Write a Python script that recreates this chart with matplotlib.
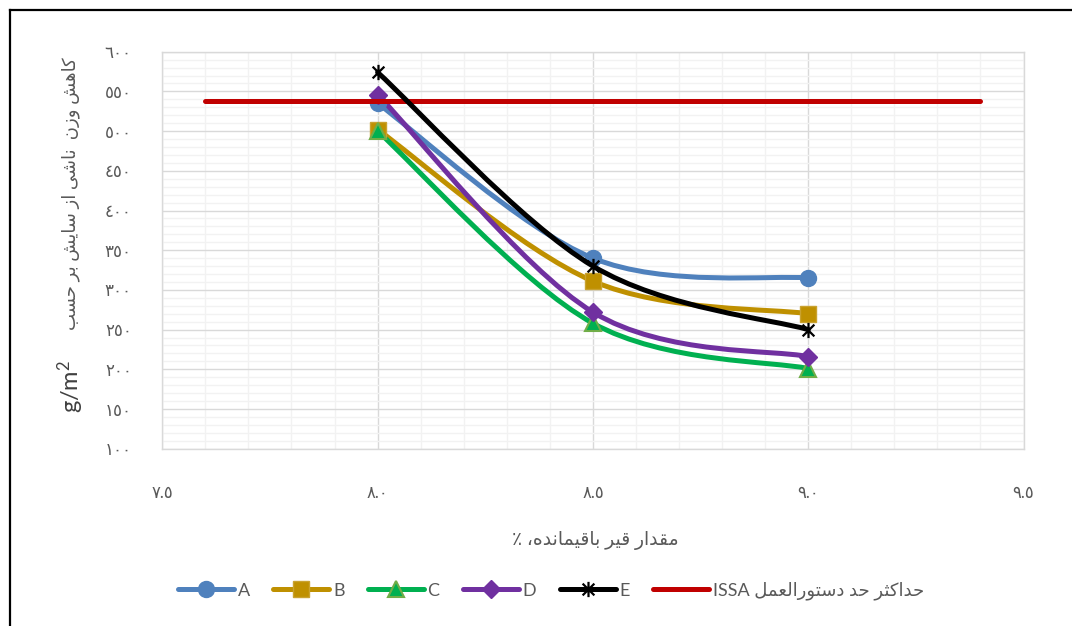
import matplotlib

matplotlib.use("Agg")
import matplotlib.pyplot as plt
import numpy as np
from matplotlib.lines import Line2D
from matplotlib.patches import PathPatch
from matplotlib.path import Path

plt.rcParams["font.family"] = ["Lato", "DejaVu Sans"]
plt.rcParams["mathtext.default"] = "regular"

# residual binder content (%) and abrasion loss (g/m2) per mix
BINDER = [8.0, 8.5, 9.0]
LOSS_A = [535, 340, 315]
LOSS_B = [502, 311, 270]
LOSS_C = [500, 258, 201]
LOSS_D = [546, 272, 216]
LOSS_E = [574, 330, 250]
SERIES_NAMES = ["A", "B", "C", "D", "E"]

# ISSA maximum allowed loss
ISSA_X = [7.6, 9.4]
ISSA_Y = [538, 538]

X_TICKS = [7.5, 8.0, 8.5, 9.0, 9.5]
Y_TICKS = [100, 150, 200, 250, 300, 350, 400, 450, 500, 550, 600]

Y_LABEL = "کاهش وزن  ناشی از سایش بر حسب"
Y_UNIT = "g/m$^2$"
X_LABEL = "مقدار قیر باقیمانده، ٪"
ISSA_LABEL = "حداکثر حد دستورالعمل"

TEXT_COLOR = "#595959"

# presentation forms: (isolated, final, initial, medial); two-form letters
# only connect to the letter before them
FORMS = {
    "\u0627": ("\uFE8D", "\uFE8E"),
    "\u0628": ("\uFE8F", "\uFE90", "\uFE91", "\uFE92"),
    "\u062A": ("\uFE95", "\uFE96", "\uFE97", "\uFE98"),
    "\u062B": ("\uFE99", "\uFE9A", "\uFE9B", "\uFE9C"),
    "\u062D": ("\uFEA1", "\uFEA2", "\uFEA3", "\uFEA4"),
    "\u062F": ("\uFEA9", "\uFEAA"),
    "\u0631": ("\uFEAD", "\uFEAE"),
    "\u0632": ("\uFEAF", "\uFEB0"),
    "\u0633": ("\uFEB1", "\uFEB2", "\uFEB3", "\uFEB4"),
    "\u0634": ("\uFEB5", "\uFEB6", "\uFEB7", "\uFEB8"),
    "\u0639": ("\uFEC9", "\uFECA", "\uFECB", "\uFECC"),
    "\u0642": ("\uFED5", "\uFED6", "\uFED7", "\uFED8"),
    "\u0644": ("\uFEDD", "\uFEDE", "\uFEDF", "\uFEE0"),
    "\u0645": ("\uFEE1", "\uFEE2", "\uFEE3", "\uFEE4"),
    "\u0646": ("\uFEE5", "\uFEE6", "\uFEE7", "\uFEE8"),
    "\u0647": ("\uFEE9", "\uFEEA", "\uFEEB", "\uFEEC"),
    "\u0648": ("\uFEED", "\uFEEE"),
    "\u06A9": ("\uFB8E", "\uFB8F", "\uFB90", "\uFB91"),
    "\u06CC": ("\uFBFC", "\uFBFD", "\uFBFE", "\uFBFF"),
}


def shape_rtl(text):
    """Join Persian letters and return them in visual (left-to-right) order."""
    text = text.replace("\u0643", "\u06A9").replace("\u064A", "\u06CC")
    out = []
    for i, ch in enumerate(text):
        forms = FORMS.get(ch)
        if forms is None:
            out.append(ch)
            continue
        prev = text[i - 1] if i > 0 else ""
        nxt = text[i + 1] if i + 1 < len(text) else ""
        joins_prev = len(FORMS.get(prev, ())) == 4
        joins_next = len(forms) == 4 and nxt in FORMS
        if joins_prev and joins_next:
            out.append(forms[3])
        elif joins_prev:
            out.append(forms[1])
        elif joins_next:
            out.append(forms[2])
        else:
            out.append(forms[0])
    return "".join(reversed(out))


def arabic_digits(value, fmt):
    return fmt.format(value).translate(str.maketrans("0123456789", "٠١٢٣٤٥٦٧٨٩"))


def smooth_path(x, y):
    """Bezier path through the points, with Catmull-Rom style handles."""
    pts = np.column_stack([x, y]).astype(float)
    padded = np.vstack([pts[:1], pts, pts[-1:]])
    verts = [pts[0]]
    codes = [Path.MOVETO]
    for i in range(len(pts) - 1):
        p0, p1, p2, p3 = padded[i], padded[i + 1], padded[i + 2], padded[i + 3]
        verts += [p1 + (p2 - p0) / 6, p2 - (p3 - p1) / 6, p2]
        codes += [Path.CURVE4] * 3
    return Path(verts, codes)


STAR = Path(
    [(-1, -1), (1, 1), (-1, 1), (1, -1), (0, -1.3), (0, 1.3)],
    [Path.MOVETO, Path.LINETO] * 3,
)

STYLES = [
    dict(color="#4F81BD", marker="o", ms=11.5, mfc="#4F81BD", mec="#4F81BD", mew=1),
    dict(color="#BF9000", marker="s", ms=11, mfc="#BF9000", mec="#C9A230", mew=1),
    dict(color="#00B050", marker="^", ms=12, mfc="#00B050", mec="#70AD47", mew=1.5),
    dict(color="#7030A0", marker="D", ms=9, mfc="#7030A0", mec="#7030A0", mew=1),
    dict(color="#000000", marker=STAR, ms=11, mfc="none", mec="#000000", mew=1.6),
]

LINE_W = 3.6

fig = plt.figure(figsize=(10.72, 6.26), dpi=100)
ax = fig.add_axes([0.1514, 0.2832, 0.8034, 0.6342])

for values, style in zip([LOSS_A, LOSS_B, LOSS_C, LOSS_D], STYLES[:4]):
    ax.add_patch(PathPatch(smooth_path(BINDER, values), fill=False, ec=style["color"],
                           lw=LINE_W, capstyle="round", joinstyle="round", zorder=3))
    ax.plot(BINDER, values, ls="none", marker=style["marker"], ms=style["ms"],
            mfc=style["mfc"], mec=style["mec"], mew=style["mew"], zorder=4)

ax.plot(ISSA_X, ISSA_Y, color="#C00000", lw=LINE_W, solid_capstyle="round", zorder=5)

style = STYLES[4]
ax.add_patch(PathPatch(smooth_path(BINDER, LOSS_E), fill=False, ec=style["color"],
                       lw=LINE_W, capstyle="round", joinstyle="round", zorder=6))
ax.plot(BINDER, LOSS_E, ls="none", marker=style["marker"], ms=style["ms"],
        mfc=style["mfc"], mec=style["mec"], mew=style["mew"], zorder=7)

handles = []
for style, name in zip(STYLES, SERIES_NAMES):
    handles.append(Line2D([], [], color=style["color"], lw=LINE_W, solid_capstyle="round",
                          marker=style["marker"], ms=style["ms"], mfc=style["mfc"],
                          mec=style["mec"], mew=style["mew"], label=name))
handles.append(Line2D([], [], color="#C00000", lw=LINE_W, solid_capstyle="round",
                      label="ISSA " + shape_rtl(ISSA_LABEL)))

ax.set_xlim(X_TICKS[0], X_TICKS[-1])
ax.set_ylim(Y_TICKS[0], Y_TICKS[-1])
ax.set_xticks(X_TICKS)
ax.set_xticklabels([arabic_digits(v, "{:.1f}") for v in X_TICKS])
ax.set_yticks(Y_TICKS)
ax.set_yticklabels([arabic_digits(v, "{:d}") for v in Y_TICKS])
ax.set_xticks(np.arange(7.5, 9.51, 0.1), minor=True)
ax.set_yticks(np.arange(100, 601, 10), minor=True)

ax.grid(which="minor", color="#F2F2F2", lw=1, zorder=0)
ax.grid(which="major", color="#D9D9D9", lw=1, zorder=0)
ax.set_axisbelow(True)
for spine in ax.spines.values():
    spine.set_color("#D9D9D9")
    spine.set_linewidth(1)
ax.tick_params(which="both", length=0, labelsize=12, colors=TEXT_COLOR)
ax.tick_params(axis="x", pad=26)
ax.tick_params(axis="y", pad=22)

# y label: Persian text above, unit below in a larger font
fig.text(0.066, 1 - 194 / 626, shape_rtl(Y_LABEL), rotation=90,
         ha="center", va="center", fontsize=13, color=TEXT_COLOR)
fig.text(0.066, 1 - 386 / 626, Y_UNIT, rotation=90,
         ha="center", va="center", fontsize=17, color="#404040")
fig.text(595 / 1072, 1 - 540 / 626, shape_rtl(X_LABEL), ha="center", va="center",
         fontsize=13.5, color=TEXT_COLOR)

fig.legend(handles=handles, loc="center", bbox_to_anchor=(551 / 1072, 1 - 591 / 626),
           ncol=6, frameon=False, fontsize=13, handlelength=3.1, handletextpad=0.2,
           columnspacing=1.3, labelcolor=TEXT_COLOR)

# frame around the chart area
fig.add_artist(Line2D([9.5 / 1072, 1], [1 - 10 / 626] * 2, color="black", lw=1.6))
fig.add_artist(Line2D([9.5 / 1072] * 2, [0, 1 - 10 / 626], color="black", lw=1.6))

fig.savefig("out.png", dpi=100)
